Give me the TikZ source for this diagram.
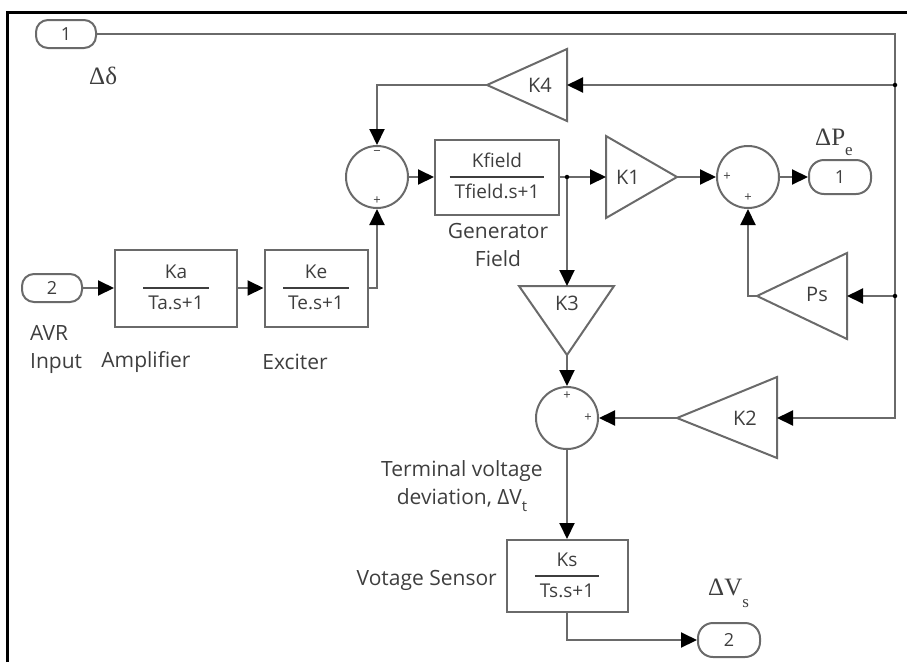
\documentclass[tikz,border=0pt]{standalone}
\usepackage{fontspec}
\setmainfont{Open Sans}
\newfontfamily\seriffont{Liberation Serif}
\usetikzlibrary{arrows.meta}
\definecolor{wirec}{HTML}{6A6A6A}
\definecolor{txt}{HTML}{3E3E3E}
\setlength{\arrayrulewidth}{1.6pt}
\newcommand\blkfrac[2]{\renewcommand\arraystretch{1.35}\begin{tabular}{@{\hspace{5pt}}c@{\hspace{5pt}}}#1\\\hline #2\end{tabular}}
\begin{document}
\begin{tikzpicture}[x=1pt,y=-1pt,
 wire/.style={draw=wirec,line width=2pt},
 arr/.style={wire,-{Triangle[length=16pt,width=15pt,color=black]}},
 block/.style={draw=wirec,line width=2pt,inner sep=0pt,text=txt,font=\fontsize{19}{22}\selectfont},
 port/.style={draw=wirec,line width=2pt,rounded corners=12pt,minimum width=60pt,minimum height=28pt,inner sep=0pt,font=\fontsize{18}{20}\selectfont,text=txt},
 sumc/.style={circle,draw=wirec,line width=2pt,minimum size=62pt,inner sep=0pt},
 sign/.style={font=\fontsize{13}{14}\selectfont,text=txt,inner sep=0pt},
 lbl/.style={font=\fontsize{21}{28}\selectfont,text=txt,inner sep=0pt},
 glbl/.style={font=\fontsize{20}{24}\selectfont,text=txt,inner sep=0pt},
 dlbl/.style={font=\seriffont\fontsize{25}{27}\selectfont,text=txt,inner sep=0pt},
 gain/.style={draw=wirec,line width=2pt,line join=miter},
 jdot/.style={circle,fill=black,inner sep=0pt,minimum size=4.5pt}
]
\useasboundingbox (0,0) rectangle (907,662);
% frame
\draw[line width=3pt] (7,662) -- (7,12) -- (907,12);

% ports
\node[port] (in1) at (66,34) {1};
\node[port] (in2) at (52,288) {2};
\node[port,minimum height=34pt,minimum width=62pt,rounded corners=15pt] (out1) at (840,177) {1};
\node[port,minimum height=34pt,minimum width=62pt,rounded corners=15pt] (out2) at (729,640) {2};

% transfer function blocks
\node[block,minimum width=122pt,minimum height=77pt] (ka) at (176,288) {\blkfrac{Ka}{Ta.s+1}};
\node[block,minimum width=103pt,minimum height=77pt] (ke) at (316,288) {\blkfrac{Ke}{Te.s+1}};
\node[block,minimum width=124pt,minimum height=75pt] (kf) at (497,177) {\blkfrac{Kfield}{Tfield.s+1}};
\node[block,minimum width=121pt,minimum height=72pt] (ks) at (567,576) {\blkfrac{Ks}{Ts.s+1}};

% sums
\node[sumc] (s1) at (377,177) {};
\node[sign] at (377,153) {\textminus};
\node[sign] at (377,201) {+};
\node[sumc] (s2) at (748,177) {};
\node[sign] at (727,177) {+};
\node[sign] at (748,198) {+};
\node[sumc] (s3) at (567,418) {};
\node[sign] at (567,396) {+};
\node[sign] at (588,418) {+};

% gains
\draw[gain] (567,49) -- (567,121) -- (487,85) -- cycle;
\node[glbl] (k4) at (540,85) {K4};
\coordinate (k4in) at (567,85); \coordinate (k4out) at (487,85);

\draw[gain] (606,136) -- (606,218) -- (677,177) -- cycle;
\node[glbl] (k1) at (628,177) {K1};
\coordinate (k1in) at (606,177); \coordinate (k1out) at (677,177);

\draw[gain] (847,253) -- (847,339) -- (757,296) -- cycle;
\node[glbl] (ps) at (817,294) {Ps};
\coordinate (psin) at (847,296); \coordinate (psout) at (757,296);

\draw[gain] (777,377) -- (777,458) -- (677,418) -- cycle;
\node[glbl] (k2) at (745,418) {K2};
\coordinate (k2in) at (777,418); \coordinate (k2out) at (677,418);

\draw[gain] (519,286) -- (614,286) -- (567,355) -- cycle;
\node[glbl] (k3) at (567,303) {K3};
\coordinate (k3in) at (567,286); \coordinate (k3out) at (567,355);

% junctions
\coordinate (tr) at (895,34);
\coordinate (j4) at (895,85);
\coordinate (jps) at (895,296);
\coordinate (br) at (895,418);
\coordinate (jb) at (567,177);

% connectors
\draw[arr] (in1.east) -- (tr) -- (br) -- (k2in);
\draw[arr] (j4) -- (k4in);
\draw[arr] (jps) -- (psin);
\draw[arr] (k4out) -| (s1.north);
\draw[arr] (in2.east) -- (ka.west);
\draw[arr] (ka.east) -- (ke.west);
\draw[arr] (ke.east) -| (s1.south);
\draw[arr] (s1.east) -- (kf.west);
\draw[arr] (kf.east) -- (jb) -- (k1in);
\draw[arr] (jb) -- (k3in);
\draw[arr] (k1out) -- (s2.west);
\draw[arr] (s2.east) -- (out1.west);
\draw[arr] (psout) -| (s2.south);
\draw[arr] (k3out) -- (s3.north);
\draw[arr] (k2out) -- (s3.east);
\draw[arr] (s3.south) -- (ks.north);
\draw[arr] (ks.south) |- (out2.west);
\node[jdot] at (j4) {};
\node[jdot] at (jps) {};
\node[jdot] at (jb) {};

% labels
\node[dlbl,anchor=base west] (ldd) at (89,84) {Δδ};
\node[dlbl,anchor=base west] (lpe) at (815,145) {ΔP\raisebox{-10pt}{\fontsize{17}{17}\selectfont e}};
\node[dlbl,anchor=base west] (lvs) at (708,595) {ΔV\raisebox{-12pt}{\fontsize{17}{17}\selectfont s}};
\node[lbl,align=center] (lgen) at (498,245) {Generator\\Field};
\node[lbl,align=left,anchor=west] (lavr) at (30,349) {AVR\\Input};
\node[lbl] (lamp) at (146,362) {Amplifier};
\node[lbl] (lexc) at (295,362) {Exciter};
\node[lbl,align=center] (lterm) at (462,486) {Terminal voltage\\deviation, ΔV\raisebox{-7pt}{\fontsize{15}{15}\selectfont t}};
\node[lbl,anchor=east] (lvs2) at (497,580) {Votage Sensor};
\end{tikzpicture}
\end{document}
